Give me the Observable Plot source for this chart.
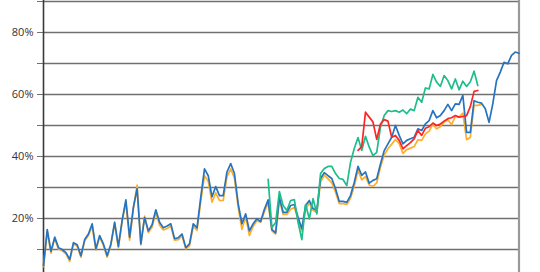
<!DOCTYPE html>
<html><head><meta charset="utf-8">
<script src="https://cdn.jsdelivr.net/npm/d3@7"></script>
<script src="https://cdn.jsdelivr.net/npm/@observablehq/plot@0.6"></script>
<style>body{margin:0;background:#fff}</style>
</head><body><div id="chart"></div>
<script>
const yTicks = [10, 20, 30, 40, 50, 60, 70, 80, 90];
const yLabels = [20, 40, 60, 80];

const blue = [4.8,16.4,9.4,14,10.6,10,9,6.8,12.2,11.5,8,13.2,15,18.3,10.2,14.5,11.8,8,11.8,18.8,
11,19.4,26,14,23.6,29.6,11.8,20.3,16,18,22.8,18.8,17,17.6,18.3,13.5,13.8,15,10.6,11.8,
18.3,17,26.8,36,33.8,27,30.3,27.4,27.4,35,37.7,34.5,24.7,18.3,21.5,16,18.3,19.9,19,23,
26,16.4,15.4,26.8,22,22,24.2,24.5,20.3,16.7,24.2,25.8,23.2,22.6,32.9,34.8,33.8,32.9,29.6,25.5,
25.5,25.2,27.4,31.6,36.8,33.9,35,31.4,32.3,32.8,37.6,41.9,44.1,46.2,50,46.8,44.1,45.2,45.7,46.2,
48.9,48.4,50.5,51.6,54.8,52.5,53.2,54.8,56.8,54.8,57,56.8,59.7,47.8,47.8,58,57.5,57.2,55.4,51,
57,64.5,67.2,70.4,69.9,72.6,73.7,73.3];

const orange = [4.5,15.8,8.8,13.5,10.2,9.6,8.6,6.2,11.8,11,7.5,12.8,14.5,17.5,9.8,14,11.3,7.5,11.3,18.3,
10.5,19,25.2,13,23,30.8,11.5,20.8,15.5,17.2,22,17.8,16.3,16.8,17.6,13,13.2,14.5,10.2,11.2,
17.5,16.2,25.5,33.8,32,25.3,28.3,25.8,25.8,33.5,36,33,23.5,16.5,20.5,14.5,17.5,19.3,18.8,22.2,
25,16,15,26,21.3,21.3,23,23.5,19.8,16,23,25,22.6,22,31.8,34,32.8,31.5,28.5,24.8,
24.8,24.5,26.5,30.5,35.5,32.5,33.5,30.8,30.4,31.5,36.5,40.5,42.5,44,45.5,44.1,41,42.2,42.7,43.2,
45.4,45.2,47.3,48.2,50.5,48.9,49.7,51.1,51.8,50.3,52.9,52.7,54,45.4,46.2,56.5,56.5,56.8];

const greenStart = 60;
const green = [32.6,17.1,18.7,28.7,24.2,22.6,25.8,26.1,18.7,13.2,24.5,19.9,26.4,21.5,34.5,36.1,36.8,36.8,34.5,32.9,
32.6,30.6,38.1,42.6,46.1,42,46.5,43,40.3,41.3,49.5,53.2,54.8,54.5,54.8,54.3,55,53.8,55.3,54.8,
59.1,57.5,62.1,61.8,66.5,64,62.6,66.1,64.5,61.8,65,61.5,64.3,62.6,64.1,67.5,62.9];

const redStart = 84;
const red = [42,43.2,54.3,52.7,51.1,45.5,50.5,51.9,51.4,46.2,46.8,45.2,42.5,43.5,44.5,45.7,48.4,46.8,49.1,49.6,
50.8,50,50.5,51.4,52.2,52.5,53.2,52.7,52.9,53.2,56.1,61,61.3];

const pts = (arr, start) => arr.map((v, k) => ({i: start + k, v}));
const lineOpts = (c) => ({x: "i", y: "v", stroke: c, strokeWidth: 1.7, strokeLinejoin: "round"});

const chart = Plot.plot({
  width: 540, height: 272,
  marginLeft: 43, marginRight: 21.5, marginTop: 0, marginBottom: 0,
  x: {domain: [0, blue.length - 1], axis: null, label: null},
  y: {domain: [2.58, 90.32], axis: null, label: null},
  style: {fontFamily: "'Open Sans', sans-serif", fontSize: "11px", color: "#333", background: "#fff"},
  marks: [
    Plot.gridY(yTicks, {stroke: "#707070", strokeOpacity: 1, strokeWidth: 1.5}),
    Plot.axisY(yTicks, {label: null, tickSize: 6, tickPadding: 4, stroke: "#707070", tickFormat: d => yLabels.includes(d) ? d + "%" : ""}),
    Plot.ruleX([0], {stroke: "#3a3a3a", strokeWidth: 1.6}),
    Plot.ruleX([blue.length - 1], {stroke: "#999", strokeWidth: 2.2}),
    Plot.line(pts(orange, 0), lineOpts("#ffae2a")),
    Plot.line(pts(blue, 0), lineOpts("#2673c2")),
    Plot.line(pts(green, greenStart), lineOpts("#1fbd8c")),
    Plot.line(pts(red, redStart), lineOpts("#ff2424"))
  ]
});
document.getElementById("chart").appendChild(chart);
</script>
</body></html>
